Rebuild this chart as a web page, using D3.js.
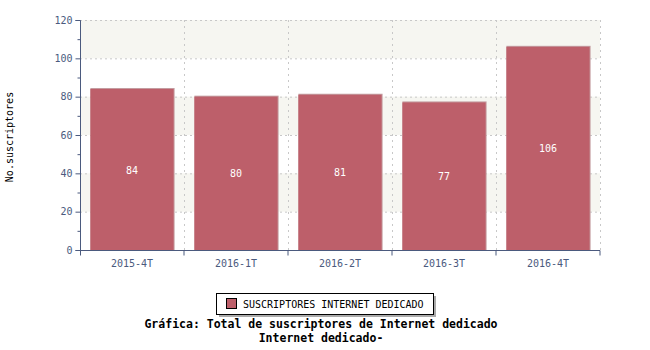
<!DOCTYPE html>
<html>
<head>
<meta charset="utf-8">
<script src="https://cdn.jsdelivr.net/npm/d3@7"></script>
<style>
body { margin: 0; background: #fff; }
text { font-family: "DejaVu Sans Mono", monospace; }
</style>
</head>
<body>
<svg id="graph"></svg>
<script>
var periodos = ["2015-4T", "2016-1T", "2016-2T", "2016-3T", "2016-4T"]
var suscriptores = [84, 80, 81, 77, 106]
var yTicks = [0, 20, 40, 60, 80, 100, 120]
var serie = "SUSCRIPTORES INTERNET DEDICADO"
var titulo1 = "Gráfica: Total de suscriptores de Internet dedicado"
var titulo2 = "Internet dedicado-"

var width = 650
var height = 350
var plotLeft = 80, plotRight = 600, plotTop = 20, plotBottom = 250
var axisColor = "#4b5a7e"

var svg = d3.select("#graph")
  .attr("width", width)
  .attr("height", height)

var xScale = d3.scaleBand()
  .domain(periodos)
  .range([plotLeft, plotRight])
  .paddingInner(0.2)
  .paddingOuter(0.1)

var yScale = d3.scaleLinear()
  .domain([0, 120])
  .range([plotBottom, plotTop])

// alternating background stripes
for (var i = 0; i < yTicks.length - 1; i++) {
  if (i % 2 == 1) {
    svg.append("rect")
      .attr("x", plotLeft)
      .attr("y", yScale(yTicks[i + 1]))
      .attr("width", plotRight - plotLeft)
      .attr("height", yScale(yTicks[i]) - yScale(yTicks[i + 1]))
      .attr("fill", "#f6f6f1")
  }
}

// grid
svg.selectAll("line.hgrid")
  .data(yTicks.slice(1))
  .enter().append("line")
  .attr("class", "hgrid")
  .attr("x1", plotLeft).attr("x2", plotRight)
  .attr("y1", function(d) {return yScale(d) + 0.5})
  .attr("y2", function(d) {return yScale(d) + 0.5})
  .attr("stroke", "#c8c8c8")
  .attr("stroke-dasharray", "2,3")

var step = xScale.step()
var vlines = d3.range(1, periodos.length + 1).map(function(i) {return plotLeft + step * i})
svg.selectAll("line.vgrid")
  .data(vlines)
  .enter().append("line")
  .attr("class", "vgrid")
  .attr("x1", function(d) {return Math.round(d) + 0.5})
  .attr("x2", function(d) {return Math.round(d) + 0.5})
  .attr("y1", plotTop).attr("y2", plotBottom)
  .attr("stroke", "#c8c8c8")
  .attr("stroke-dasharray", "2,4")

// bars with light shadow edge
var bars = svg.selectAll("g.bar")
  .data(suscriptores)
  .enter().append("g")
  .attr("class", "bar")

bars.append("rect")
  .attr("x", function(d, i) {return xScale(periodos[i])})
  .attr("y", function(d) {return yScale(d) - 1})
  .attr("width", xScale.bandwidth() + 1)
  .attr("height", function(d) {return plotBottom - yScale(d) + 1})
  .attr("fill", "#c49ca0")

bars.append("rect")
  .attr("x", function(d, i) {return xScale(periodos[i])})
  .attr("y", function(d) {return yScale(d)})
  .attr("width", xScale.bandwidth())
  .attr("height", function(d) {return plotBottom - yScale(d)})
  .attr("fill", "#bd5f6a")

bars.append("text")
  .attr("x", function(d, i) {return xScale(periodos[i]) + xScale.bandwidth() / 2})
  .attr("y", function(d) {return yScale(d / 2) + 4})
  .attr("text-anchor", "middle")
  .attr("fill", "#ffffff")
  .style("font-size", "10px")
  .text(function(d) {return d})

// axes
var yAxis = d3.axisLeft(yScale).tickValues(yTicks).tickSize(5).tickPadding(3)
var yg = svg.append("g")
  .attr("transform", "translate(" + (plotLeft + 0.5) + ",0)")
  .call(yAxis)
svg.append("g")
  .attr("transform", "translate(" + (plotLeft + 0.5) + ",0)")
  .call(d3.axisLeft(yScale).tickValues(d3.range(10, 120, 20)).tickSize(3).tickFormat(""))
  .call(function(g) {g.select(".domain").remove()})

var xg = svg.append("g")
  .attr("transform", "translate(0," + (plotBottom + 0.5) + ")")
  .call(d3.axisBottom(xScale).tickSize(0).tickPadding(9))
xg.selectAll(".tick")
  .append("line")
  .attr("x1", step / 2).attr("x2", step / 2)
  .attr("y1", 0).attr("y2", 5)
xg.append("line")
  .attr("x1", plotLeft + 0.5).attr("x2", plotLeft + 0.5)
  .attr("y1", 0).attr("y2", 5)
  .attr("stroke", axisColor)

svg.selectAll(".domain").attr("stroke", axisColor)
svg.selectAll(".tick line").attr("stroke", axisColor)
svg.selectAll(".tick text")
  .attr("fill", axisColor)
  .style("font-family", "DejaVu Sans Mono, monospace")
  .style("font-size", "10px")
yg.select(".domain").attr("d", "M-5," + (plotTop + 0.5) + "H0V" + (plotBottom + 0.5) + "H-5")
xg.select(".domain").attr("d", "M" + plotLeft + ",0H" + plotRight)

svg.append("text")
  .attr("transform", "translate(13,137) rotate(-90)")
  .attr("text-anchor", "middle")
  .style("font-size", "10px")
  .attr("fill", "#000")
  .text("No.suscriptores")

// legend
svg.append("rect")
  .attr("x", 219).attr("y", 296).attr("width", 217).attr("height", 21)
  .attr("fill", "#aaaaaa")
svg.append("rect")
  .attr("x", 216.5).attr("y", 293.5).attr("width", 217).attr("height", 21)
  .attr("fill", "#fff").attr("stroke", "#000")
svg.append("rect")
  .attr("x", 226.5).attr("y", 298.5).attr("width", 10).attr("height", 10)
  .attr("fill", "#bd5f6a").attr("stroke", "#000")
svg.append("text")
  .attr("x", 243).attr("y", 308)
  .style("font-size", "10px")
  .text(serie)

svg.append("text")
  .attr("x", 321).attr("y", 328)
  .attr("text-anchor", "middle")
  .style("font-size", "11.5px").style("font-weight", "bold")
  .text(titulo1)
svg.append("text")
  .attr("x", 321).attr("y", 342)
  .attr("text-anchor", "middle")
  .style("font-size", "11.5px").style("font-weight", "bold")
  .text(titulo2)
</script>
</body>
</html>
